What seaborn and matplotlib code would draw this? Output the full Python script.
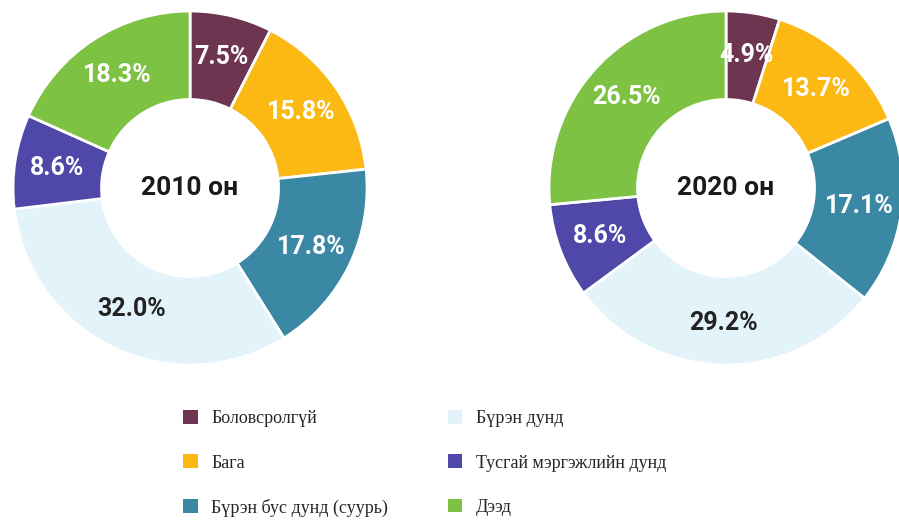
import seaborn as sns
import matplotlib.pyplot as plt
from matplotlib.patches import Patch

# education levels, share of population (%)
levels = ['Боловсролгүй', 'Бага', 'Бүрэн бус дунд (суурь)',
          'Бүрэн дунд', 'Тусгай мэргэжлийн дунд', 'Дээд']
share_2010 = [7.5, 15.8, 17.8, 32.0, 8.6, 18.3]
share_2020 = [4.9, 13.7, 17.1, 29.2, 8.6, 26.5]
years = ['2010 он', '2020 он']

sns.set_theme(style='white')
colors = sns.color_palette(['#6E3550', '#FDB913', '#3B88A5',
                            '#E3F3FA', '#5048A8', '#7DC242'])
plt.rcParams['font.family'] = ['Roboto', 'DejaVu Sans']

fig = plt.figure(figsize=(8.99, 5.23), dpi=100)
ax_left = fig.add_axes([0.0145, 0.302, 0.3938, 0.677])
ax_right = fig.add_axes([0.6107, 0.302, 0.3938, 0.677])

for ax, vals, year in zip([ax_left, ax_right], [share_2010, share_2020], years):
    wedges, texts, autotexts = ax.pie(
        vals, colors=colors, startangle=90, counterclock=False,
        autopct='%.1f%%', pctdistance=0.76, radius=1,
        wedgeprops=dict(width=0.5, edgecolor='white', linewidth=2))
    for i, t in enumerate(autotexts):
        t.set_fontsize(18)
        t.set_fontweight('bold')
        t.set_color('#222222' if i == 3 else 'white')
    ax.text(0, 0, year, ha='center', va='center', fontsize=19,
            fontweight='bold', color='#1a1a1a')
    ax.set_xlim(-1, 1)
    ax.set_ylim(-1, 1)
    ax.set_aspect('equal')
    ax.axis('off')

handles = [Patch(facecolor=c, edgecolor='none') for c in colors]
fig.legend(handles, levels, ncol=2, loc='upper left',
           bbox_to_anchor=(0.186, 0.247), frameon=False,
           prop={'family': 'Liberation Serif', 'size': 13},
           handlelength=0.8, handleheight=0.8, handletextpad=0.75,
           labelspacing=1.5, columnspacing=3.3)

fig.savefig('out.png', dpi=100)
